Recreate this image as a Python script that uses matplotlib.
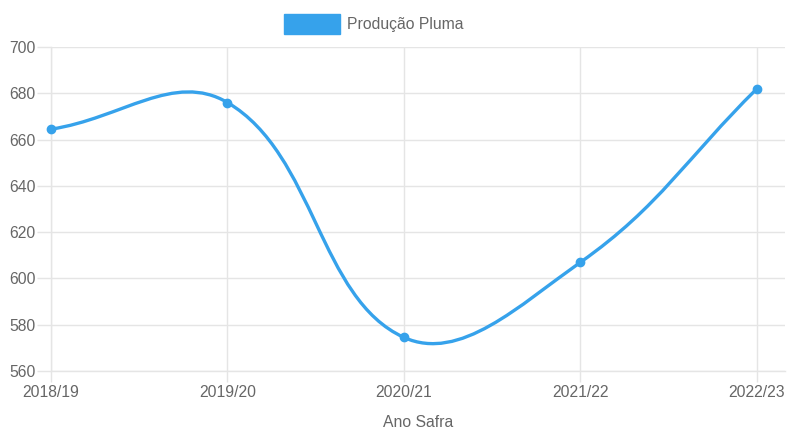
import numpy as np
import matplotlib
matplotlib.use("Agg")
import matplotlib.pyplot as plt
from matplotlib.path import Path
from matplotlib.patches import PathPatch, Rectangle

categories = ["2018/19", "2019/20", "2020/21", "2021/22", "2022/23"]
values = [664.5, 676, 574.5, 607, 682]
series_name = "Produção Pluma"
x_title = "Ano Safra"
y_ticks = [560, 580, 600, 620, 640, 660, 680, 700]

blue = "#36A2EB"
grid_c = "#e5e5e5"
text_c = "#666666"
plt.rcParams['font.family'] = ['Liberation Sans', 'DejaVu Sans']
fs = 11.3

W, H = 787, 430
fig = plt.figure(figsize=(W / 100, H / 100), dpi=100)
ax = fig.add_axes([51 / W, 59 / H, (785 - 51) / W, (371 - 47) / H])
xs = np.arange(len(categories), dtype=float)
ax.set_xlim(0, 4 + 28 / 176.5)
ax.set_ylim(560, 700)

# Chart.js-style bezier spline (tension 0.4) computed in display space
pts = ax.transData.transform(np.c_[xs, values])
t = 0.4
n = len(pts)
prev_cp, next_cp = [], []
for i in range(n):
    p0 = pts[i - 1] if i > 0 else pts[i]
    p1 = pts[i]
    p2 = pts[i + 1] if i < n - 1 else pts[i]
    d01 = np.hypot(*(p1 - p0))
    d12 = np.hypot(*(p2 - p1))
    s = d01 + d12
    s01 = d01 / s if s else 0
    s12 = d12 / s if s else 0
    prev_cp.append(p1 - t * s01 * (p2 - p0))
    next_cp.append(p1 + t * s12 * (p2 - p0))
verts = [pts[0]]
codes = [Path.MOVETO]
for i in range(n - 1):
    verts += [next_cp[i], prev_cp[i + 1], pts[i + 1]]
    codes += [Path.CURVE4] * 3
verts = ax.transData.inverted().transform(np.array(verts))
ax.add_patch(PathPatch(Path(verts, codes), fill=False, edgecolor=blue, lw=2.4,
                       transform=ax.transData, zorder=3, capstyle='round'))
ax.plot(xs, values, 'o', color=blue, ms=6, zorder=4, clip_on=False)

ax.set_xticks(xs)
ax.set_xticklabels(categories)
ax.set_yticks(y_ticks)
ax.grid(True, color=grid_c, lw=1.0)
ax.set_axisbelow(True)
for sp in ["top", "right"]:
    ax.spines[sp].set_visible(False)
for sp in ["left", "bottom"]:
    ax.spines[sp].set_color(grid_c)
    ax.spines[sp].set_linewidth(1.0)
ax.tick_params(axis='both', width=1.0, color=grid_c, labelcolor=text_c, labelsize=fs)
ax.tick_params(axis='y', length=10, pad=1)
ax.tick_params(axis='x', length=8, pad=2)
ax.set_xlabel(x_title, color=text_c, fontsize=fs, labelpad=11)

# legend
fig.patches.append(Rectangle((284 / W, 1 - 34 / H), 56 / W, 20 / H, transform=fig.transFigure,
                             facecolor=blue, edgecolor=blue, figure=fig))
fig.text(347 / W, 1 - 24 / H, series_name, color=text_c, fontsize=fs, va='center', ha='left')

fig.savefig("out.png", dpi=100)
